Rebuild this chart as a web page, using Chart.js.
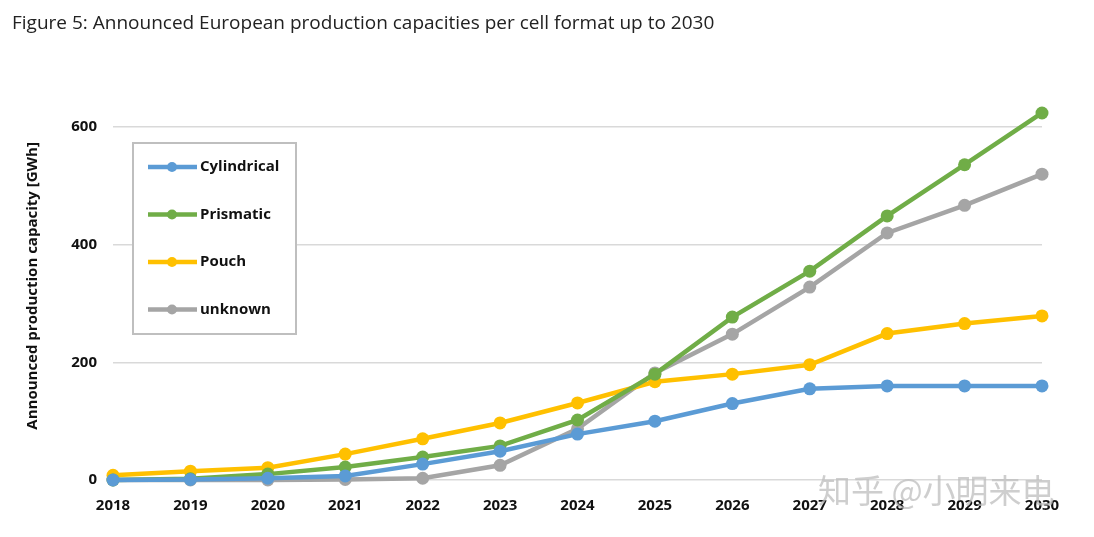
<!DOCTYPE html>
<html>
<head>
<meta charset="utf-8">
<script src="https://cdn.jsdelivr.net/npm/chart.js@4"></script>
<style>
    html, body { margin: 0; padding: 0; background: #fff; }
    #wrap { width: 1094px; height: 537px; }
</style>
</head>
<body>
<div id="wrap"><canvas id="chart"></canvas></div>
<script>
// Chart data
const years = ['2018', '2019', '2020', '2021', '2022', '2023', '2024', '2025', '2026', '2027', '2028', '2029', '2030'];
const cylindrical = [0, 1, 3, 7, 27, 49, 78, 100, 130, 155, 160, 160, 160];
const prismatic = [0, 2, 10, 22, 39, 58, 102, 180, 277, 355, 449, 536, 624];
const pouch = [8, 15, 21, 44, 70, 97, 131, 167, 180, 196, 249, 266, 279];
const unknown = [0, 0, 0, 1, 3, 25, 87, 182, 248, 328, 420, 467, 520];
const yTicks = [0, 200, 400, 600];

const seriesNames = ['Cylindrical', 'Prismatic', 'Pouch', 'unknown'];
const seriesColors = ['#5B9BD5', '#70AD47', '#FFC000', '#A5A5A5'];
const seriesData = [cylindrical, prismatic, pouch, unknown];

const BOLD = '"Open Sans", "Liberation Sans", sans-serif';

// Legend drawn inside the plot, in a grey box
const boxLegend = {
    id: 'boxLegend',
    afterDraw(chart) {
        const ctx = chart.ctx;
        const x = 133, y = 143, w = 163, h = 191;
        ctx.save();
        ctx.fillStyle = '#fff';
        ctx.fillRect(x, y, w, h);
        ctx.strokeStyle = '#BFBFBF';
        ctx.lineWidth = 2;
        ctx.strokeRect(x, y, w, h);
        chart.data.datasets.forEach((ds, i) => {
            const ly = 167 + i * 47.5;
            ctx.strokeStyle = ds.borderColor;
            ctx.lineWidth = 4.5;
            ctx.beginPath();
            ctx.moveTo(148, ly);
            ctx.lineTo(197, ly);
            ctx.stroke();
            ctx.fillStyle = ds.borderColor;
            ctx.beginPath();
            ctx.arc(172, ly, 5, 0, Math.PI * 2);
            ctx.fill();
            ctx.fillStyle = '#111';
            ctx.font = 'bold 15px ' + BOLD;
            ctx.textBaseline = 'middle';
            ctx.fillText(ds.label, 200, ly);
        });
        // watermark
        ctx.font = '33px "Noto Sans CJK SC", sans-serif';
        ctx.fillStyle = 'rgba(190, 190, 190, 0.75)';
        ctx.textBaseline = 'middle';
        ctx.fillText('知乎 @小明来电', 818, 490);
        ctx.restore();
    }
};

const ctx = document.getElementById('chart').getContext('2d');
new Chart(ctx, {
    type: 'line',
    data: {
        labels: years,
        datasets: seriesNames.map((name, i) => ({
            label: name,
            data: seriesData[i],
            borderColor: seriesColors[i],
            backgroundColor: seriesColors[i],
            borderWidth: 4.5,
            pointRadius: 6.5,
            pointHoverRadius: 6.5,
            pointBorderWidth: 0,
            tension: 0,
            clip: false
        }))
    },
    options: {
        responsive: true,
        maintainAspectRatio: false,
        animation: false,
        layout: { padding: { left: 12, right: 52, top: 0, bottom: 0 } },
        plugins: {
            legend: { display: false },
            tooltip: { enabled: false },
            title: {
                display: true,
                text: 'Figure 5: Announced European production capacities per cell format up to 2030',
                align: 'start',
                color: '#222',
                font: { family: '"Open Sans", sans-serif', size: 19, weight: 'normal' },
                padding: { top: 12, bottom: 57 }
            }
        },
        scales: {
            x: {
                offset: false,
                grid: { display: false, drawTicks: false },
                border: { display: false },
                ticks: {
                    color: '#111',
                    font: { family: BOLD, size: 15, weight: 'bold' },
                    padding: 17,
                    maxRotation: 0
                },
                afterFit: s => { s.height = 57; }
            },
            y: {
                min: 0,
                max: 660,
                afterBuildTicks: s => { s.ticks = yTicks.map(v => ({ value: v })); },
                grid: { color: '#D9D9D9', lineWidth: 1.5, drawTicks: false },
                border: { display: false },
                ticks: {
                    color: '#111',
                    font: { family: BOLD, size: 15, weight: 'bold' },
                    padding: 16
                },
                title: {
                    display: true,
                    text: 'Announced production capacity [GWh]',
                    color: '#111',
                    font: { family: BOLD, size: 15, weight: 'bold' },
                    padding: { top: 12, bottom: 0 }
                },
                afterFit: s => { s.width = 101; }
            }
        }
    },
    plugins: [boxLegend]
});
</script>
</body>
</html>
